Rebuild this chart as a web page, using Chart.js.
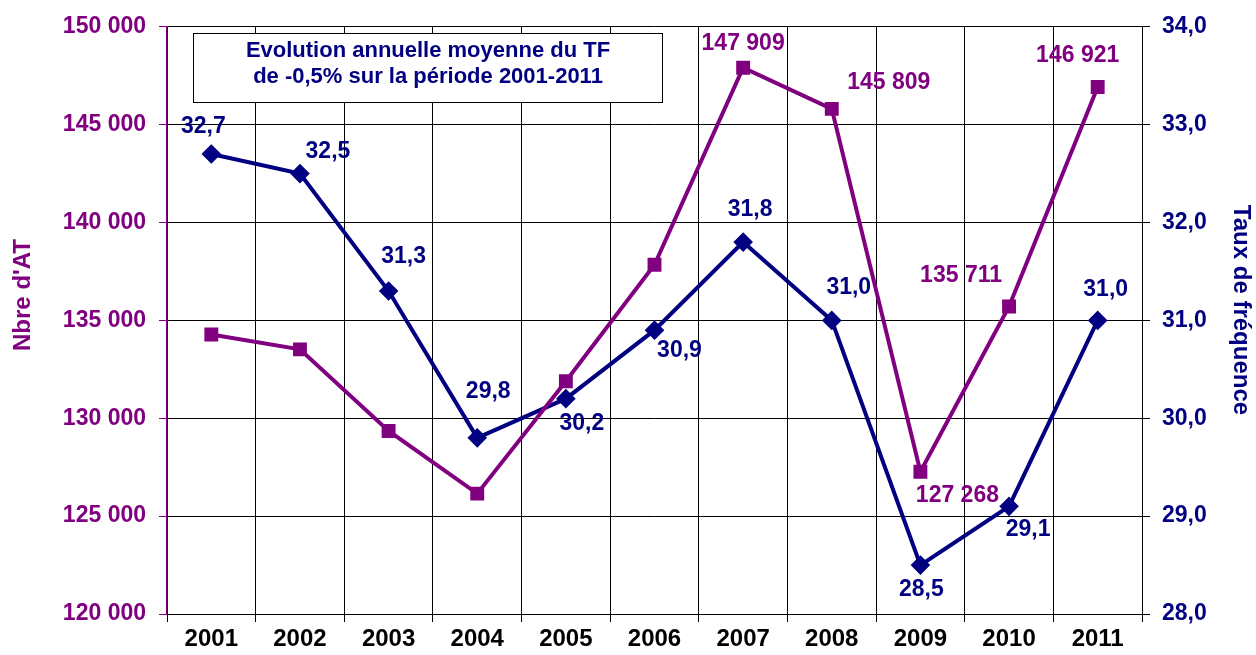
<!DOCTYPE html>
<html>
<head>
<meta charset="utf-8">
<script src="https://cdn.jsdelivr.net/npm/chart.js@4/dist/chart.umd.min.js"></script>
<style>
  html, body { margin: 0; padding: 0; background: #fff; }
  canvas { display: block; }
</style>
</head>
<body>
<canvas id="myChart" width="1256" height="655"></canvas>
<script>
// Données
const annees = ["2001", "2002", "2003", "2004", "2005", "2006", "2007", "2008", "2009", "2010", "2011"];
const nbreAT = [134280, 133520, 129350, 126150, 131890, 137840, 147909, 145809, 127268, 135711, 146921];
const tauxFrequence = [32.7, 32.5, 31.3, 29.8, 30.2, 30.9, 31.8, 31.0, 28.5, 29.1, 31.0];
const nbreATAvecEtiquette = [false, false, false, false, false, false, true, true, true, true, true];
const ticksAT = [120000, 125000, 130000, 135000, 140000, 145000, 150000];
const ticksTF = [28, 29, 30, 31, 32, 33, 34];
const titreEncadre = ["Evolution annuelle moyenne du TF", "de -0,5% sur la période 2001-2011"];

const VIOLET = "#800080";
const MARINE = "#000080";
const POLICE = "'Liberation Sans', Arial, Helvetica, sans-serif";

// Décalage des étiquettes par rapport au point (px)
const decalageTF = [[-8, -27], [28, -22], [15, -34], [11, -46], [16, 25], [25, 20], [7, -32], [17, -33], [1, 25], [19, 23], [8, -31]];
const decalageAT = [null, null, null, null, null, null, [0, -24], [57, -26], [37, 24], [-48, -31], [-20, -31]];

function formatMilliers(v) {
    return String(Math.round(v)).replace(/\B(?=(\d{3})+(?!\d))/g, " ");
}
function formatDecimal(v) {
    return v.toFixed(1).replace(".", ",");
}

// Plugin : étiquettes, titres d'axes, encadré
const decorations = {
    id: "decorations",
    afterDatasetsDraw(chart) {
        const ctx = chart.ctx;
        ctx.save();
        ctx.font = "bold 23px " + POLICE;
        ctx.textAlign = "center";
        ctx.textBaseline = "middle";

        const metaAT = chart.getDatasetMeta(0);
        ctx.fillStyle = VIOLET;
        metaAT.data.forEach((pt, i) => {
            if (!nbreATAvecEtiquette[i]) return;
            const d = decalageAT[i];
            ctx.fillText(formatMilliers(nbreAT[i]), pt.x + d[0], pt.y + d[1]);
        });

        const metaTF = chart.getDatasetMeta(1);
        ctx.fillStyle = MARINE;
        metaTF.data.forEach((pt, i) => {
            const d = decalageTF[i];
            ctx.fillText(formatDecimal(tauxFrequence[i]), pt.x + d[0], pt.y + d[1]);
        });

        // Encadré
        ctx.fillStyle = "#fff";
        ctx.fillRect(193.5, 33.5, 469, 69);
        ctx.strokeStyle = "#000";
        ctx.lineWidth = 1;
        ctx.strokeRect(193.5, 33.5, 469, 69);
        ctx.fillStyle = MARINE;
        ctx.font = "bold 22px " + POLICE;
        ctx.fillText(titreEncadre[0], 428, 51);
        ctx.fillText(titreEncadre[1], 428, 77);

        // Titres des axes
        ctx.font = "bold 24px " + POLICE;
        ctx.fillStyle = VIOLET;
        ctx.save();
        ctx.translate(23, 295);
        ctx.rotate(-Math.PI / 2);
        ctx.fillText("Nbre d'AT", 0, 0);
        ctx.restore();

        ctx.fillStyle = MARINE;
        ctx.save();
        ctx.translate(1241, 310);
        ctx.rotate(Math.PI / 2);
        ctx.fillText("Taux de fréquence", 0, 0);
        ctx.restore();

        ctx.restore();
    },
};

const ctxLigne = document.getElementById("myChart").getContext("2d");
const myChart = new Chart(ctxLigne, {
    type: "line",
    data: {
        labels: annees,
        datasets: [
            {
                label: "Nbre d'AT",
                data: nbreAT,
                yAxisID: "yAT",
                borderColor: VIOLET,
                backgroundColor: VIOLET,
                borderWidth: 4,
                pointStyle: "rect",
                pointRadius: 7,
                pointHoverRadius: 7,
                tension: 0,
            },
            {
                label: "Taux de fréquence",
                data: tauxFrequence,
                yAxisID: "yTF",
                borderColor: MARINE,
                backgroundColor: MARINE,
                borderWidth: 4,
                pointStyle: "rectRot",
                pointRadius: 7,
                pointHoverRadius: 7,
                tension: 0,
            },
        ],
    },
    options: {
        responsive: false,
        animation: false,
        layout: { padding: { top: 24, left: 0, right: 0, bottom: 0 } },
        plugins: {
            legend: { display: false },
            tooltip: { enabled: false },
        },
        scales: {
            x: {
                offset: true,
                grid: { offset: true, color: "#000", tickColor: "#000", tickLength: 8, lineWidth: 1 },
                border: { color: "#000", width: 1 },
                ticks: { color: "#000", font: { family: POLICE, size: 24, weight: "bold" }, padding: 3, maxRotation: 0 },
                afterFit(scale) { scale.height = 41; },
            },
            yAT: {
                position: "left",
                min: 120000,
                max: 150000,
                afterBuildTicks(scale) { scale.ticks = ticksAT.map(v => ({ value: v })); },
                grid: { color: "#000", tickColor: VIOLET, tickLength: 8, lineWidth: 1 },
                border: { color: VIOLET, width: 1.5 },
                ticks: {
                    color: VIOLET,
                    font: { family: POLICE, size: 23, weight: "bold" },
                    padding: 13,
                    callback: v => formatMilliers(v),
                },
                afterFit(scale) { scale.width = 167; },
            },
            yTF: {
                position: "right",
                min: 28,
                max: 34,
                afterBuildTicks(scale) { scale.ticks = ticksTF.map(v => ({ value: v })); },
                grid: { drawOnChartArea: false, tickColor: "#000", tickLength: 8 },
                border: { color: "#000", width: 1 },
                ticks: {
                    color: MARINE,
                    font: { family: POLICE, size: 23, weight: "bold" },
                    padding: 12,
                    callback: v => formatDecimal(v),
                },
                afterFit(scale) { scale.width = 114; },
            },
        },
    },
    plugins: [decorations],
});
</script>
</body>
</html>
